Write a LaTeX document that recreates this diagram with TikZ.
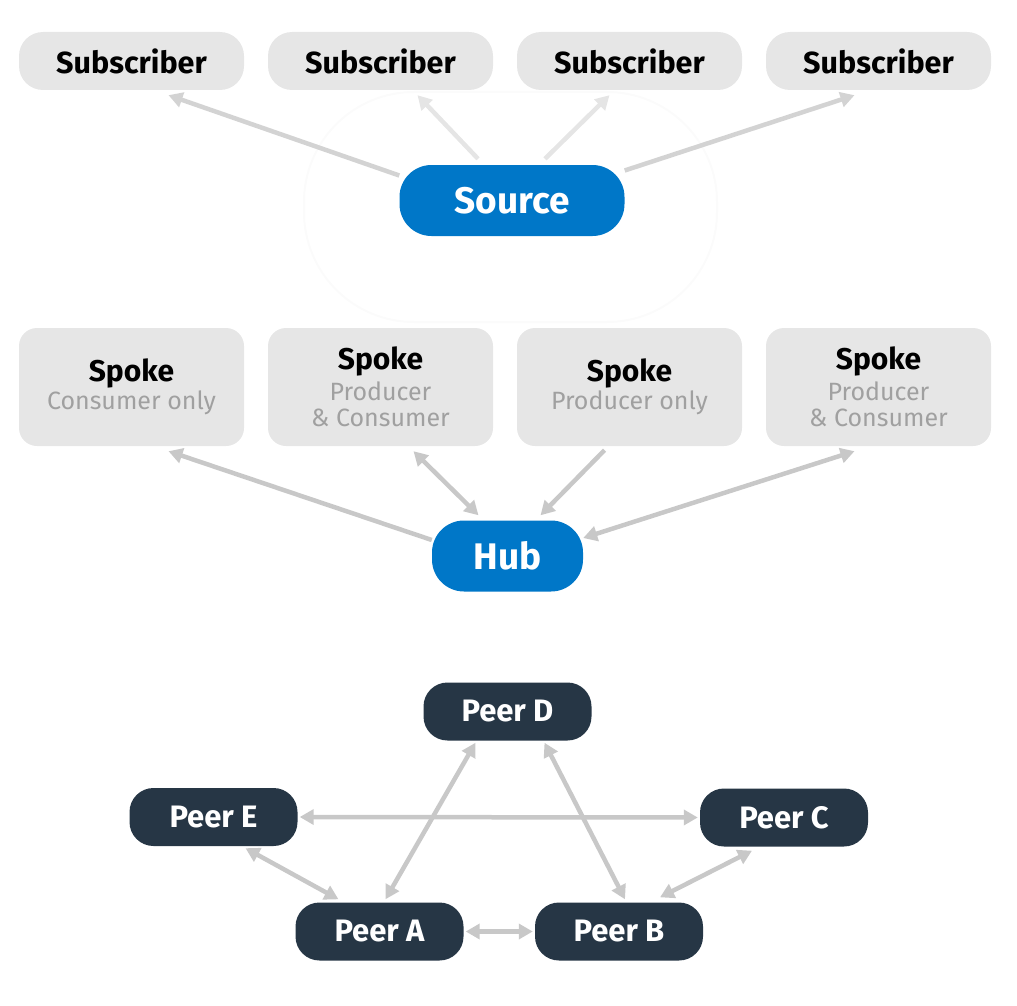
\documentclass[tikz,border=0pt]{standalone}
\usepackage{fontspec}
\setmainfont{Fira Sans}
\usetikzlibrary{arrows.meta}
\definecolor{boxgray}{HTML}{E6E6E6}
\definecolor{srcblue}{HTML}{0077C8}
\definecolor{peerdark}{HTML}{263645}
\definecolor{linkgray}{HTML}{C8C8C8}
\definecolor{fadegray}{HTML}{DEDEDE}
\definecolor{notegray}{HTML}{A0A0A0}
\begin{document}
\begin{tikzpicture}[x=1pt,y=-1pt,
    sub/.style={fill=boxgray,rounded corners=24pt,minimum width=225pt,minimum height=58pt,
      font=\fontsize{30.5}{32}\selectfont\bfseries},
    spoke/.style={fill=boxgray,rounded corners=18pt,minimum width=225pt,minimum height=118pt,
      align=center,font=\fontsize{25}{28}\selectfont},
    core/.style={fill=srcblue,text=white,rounded corners=32pt,minimum height=71pt,
      font=\fontsize{37}{40}\selectfont\bfseries},
    peer/.style={fill=peerdark,text=white,rounded corners=24pt,minimum width=168pt,minimum height=58pt,
      font=\fontsize{31}{32}\selectfont\bfseries},
    tip/.tip={Triangle[length=14pt,width=15pt]},
    link/.style={draw=linkgray,line width=4.5pt,-tip},
    twoway/.style={link,tip-tip}]
  \useasboundingbox (0,0) rectangle (1017,1006);
  \draw[gray!3,line width=2pt,rounded corners=110pt] (304,92) rectangle (717,322);
  % publish / subscribe
  \node[sub] (s1) at (131.5,61) {Subscriber};
  \node[sub] (s2) at (380.5,61) {Subscriber};
  \node[sub] (s3) at (629.5,61) {Subscriber};
  \node[sub] (s4) at (878.5,61) {Subscriber};
  \node[core,minimum width=225pt] (src) at (512,200.5) {Source};
  \begin{scope}[link]
    \draw[draw=linkgray!80] ([yshift=25pt]src.west) to ([xshift=37pt,yshift=-5pt]s1.south);
    \draw[draw=fadegray!80] ([xshift=-34pt,yshift=6pt]src.north) to ([xshift=37pt,yshift=-5pt]s2.south);
    \draw[draw=fadegray!80] ([xshift=33pt,yshift=6pt]src.north) to ([xshift=-20pt,yshift=-5pt]s3.south);
    \draw[draw=linkgray!80] ([yshift=30pt]src.east) to ([xshift=-24pt,yshift=-5pt]s4.south);
  \end{scope}
  % hub and spoke
  \node[spoke] (p1) at (131.5,387) {{\fontsize{30}{30}\selectfont\bfseries Spoke}\\[0pt]
    \textcolor{notegray}{Consumer only}};
  \node[spoke] (p2) at (380.5,387) {{\fontsize{30}{30}\selectfont\bfseries Spoke}\\[3pt]
    \textcolor{notegray}{Producer}\\[-2pt]\textcolor{notegray}{\& Consumer}};
  \node[spoke] (p3) at (629.5,387) {{\fontsize{30}{30}\selectfont\bfseries Spoke}\\[0pt]
    \textcolor{notegray}{Producer only}};
  \node[spoke] (p4) at (878.5,387) {{\fontsize{30}{30}\selectfont\bfseries Spoke}\\[3pt]
    \textcolor{notegray}{Producer}\\[-2pt]\textcolor{notegray}{\& Consumer}};
  \node[core,minimum width=151pt] (hub) at (507.5,556) {Hub};
  \begin{scope}[link]
    \draw ([yshift=16pt]hub.west) to ([xshift=37pt,yshift=-5pt]p1.south);
    \draw[twoway] ([xshift=-29pt,yshift=5pt]hub.north) to ([xshift=33pt,yshift=-5pt]p2.south);
    \draw ([xshift=-25pt,yshift=-4pt]p3.south) to ([xshift=33pt,yshift=5pt]hub.north);
    \draw[twoway] ([yshift=18pt]hub.east) to ([xshift=-24pt,yshift=-5pt]p4.south);
  \end{scope}
  % peer to peer
  \node[peer] (pd) at (507.5,711.5) {Peer D};
  \node[peer] (pe) at (213.5,817) {Peer E};
  \node[peer] (pc) at (784,817.5) {Peer C};
  \node[peer] (pa) at (379.5,931.5) {Peer A};
  \node[peer] (pb) at (619,931.5) {Peer B};
  \begin{scope}[twoway]
    \draw[shorten <=2pt,shorten >=2pt] (pe.east) to (pc.west);
    \draw ([xshift=32pt,yshift=-2pt]pe.south) to ([xshift=-41pt,yshift=3pt]pa.north);
    \draw ([xshift=6pt,yshift=3pt]pa.north) to ([xshift=-32pt,yshift=-2pt]pd.south);
    \draw ([xshift=37pt,yshift=-2pt]pd.south) to ([xshift=6pt,yshift=3pt]pb.north);
    \draw ([xshift=41pt,yshift=5pt]pb.north) to ([xshift=-32pt,yshift=-4pt]pc.south);
    \draw[shorten <=2pt,shorten >=2pt] (pa.east) to (pb.west);
  \end{scope}
\end{tikzpicture}
\end{document}
